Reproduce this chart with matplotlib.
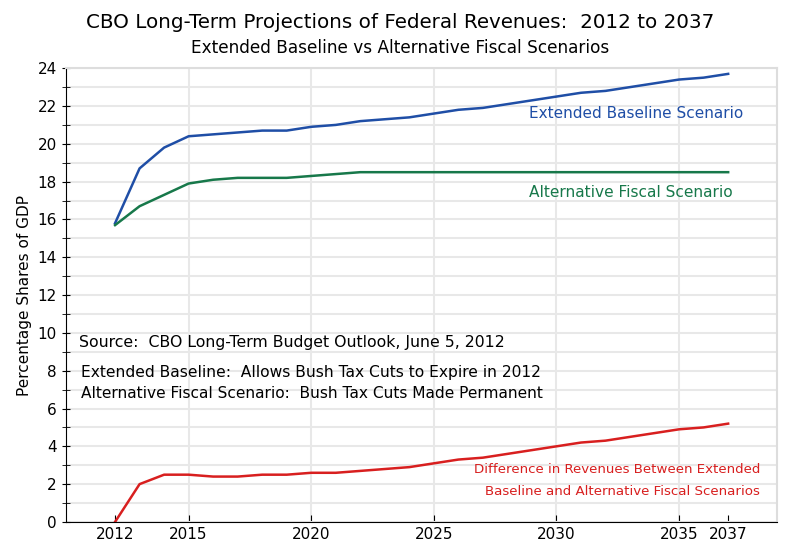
import matplotlib
matplotlib.use('Agg')
import matplotlib.pyplot as plt

# ---------------------------------------------------

years = list(range(2012, 2038))
baseline = [15.8, 18.7, 19.8, 20.4, 20.5, 20.6, 20.7, 20.7, 20.9, 21.0,
            21.2, 21.3, 21.4, 21.6, 21.8, 21.9, 22.1, 22.3, 22.5, 22.7,
            22.8, 23.0, 23.2, 23.4, 23.5, 23.7]
alternative = [15.7, 16.7, 17.3, 17.9, 18.1, 18.2, 18.2, 18.2, 18.3, 18.4,
               18.5, 18.5, 18.5, 18.5, 18.5, 18.5, 18.5, 18.5, 18.5, 18.5,
               18.5, 18.5, 18.5, 18.5, 18.5, 18.5]
difference = [0.0, 2.0, 2.5, 2.5, 2.4, 2.4, 2.5, 2.5, 2.6, 2.6,
              2.7, 2.8, 2.9, 3.1, 3.3, 3.4, 3.6, 3.8, 4.0, 4.2,
              4.3, 4.5, 4.7, 4.9, 5.0, 5.2]
x_ticks = [2012, 2015, 2020, 2025, 2030, 2035, 2037]

blue = '#1f4ea6'
green = '#17784a'
red = '#d81f1f'
grid_col = '#e8e8e8'

# ---------------------------------------------------

fig = plt.figure(figsize=(8, 5.5), dpi=100)
ax = fig.add_axes([0.0825, 0.051, 0.889, 0.825])

ax.plot(years, baseline, color=blue, linewidth=1.8)
ax.plot(years, alternative, color=green, linewidth=1.8)
ax.plot(years, difference, color=red, linewidth=1.8)

ax.set_xlim(2010, 2039)
ax.set_ylim(0, 24)
ax.set_xticks(x_ticks)
ax.set_yticks(range(0, 25, 2))
ax.set_yticks(range(0, 25, 1), minor=True)
ax.tick_params(axis='both', labelsize=11, length=5)
ax.tick_params(axis='x', direction='in')
ax.tick_params(axis='y', which='both', direction='inout', length=6)

# vertical grid only at 2015..2035
for yr in [2015, 2020, 2025, 2030, 2035]:
    ax.axvline(yr, color=grid_col, linewidth=1.5, zorder=0)
ax.yaxis.grid(True, which='both', color=grid_col, linewidth=1.5, zorder=0)
ax.set_axisbelow(True)

for s in ['top', 'right']:
    ax.spines[s].set_color('#dddddd')
    ax.spines[s].set_linewidth(1.5)

ax.set_ylabel('Percentage Shares of GDP', fontsize=11)

fig.text(0.5, 0.96, 'CBO Long-Term Projections of Federal Revenues:  2012 to 2037',
         ha='center', va='center', fontsize=14.3)
fig.text(0.5, 0.912, 'Extended Baseline vs Alternative Fiscal Scenarios',
         ha='center', va='center', fontsize=12.2)

ax.text(2037.6, 21.6, 'Extended Baseline Scenario', color=blue,
        ha='right', va='center', fontsize=11)
ax.text(2037.2, 17.4, 'Alternative Fiscal Scenario', color=green,
        ha='right', va='center', fontsize=11.1)
ax.text(2038.3, 2.75, 'Difference in Revenues Between Extended', color=red,
        ha='right', va='center', fontsize=9.6)
ax.text(2038.3, 1.6, 'Baseline and Alternative Fiscal Scenarios', color=red,
        ha='right', va='center', fontsize=9.6)

ax.text(2010.55, 9.5, 'Source:  CBO Long-Term Budget Outlook, June 5, 2012',
        ha='left', va='center', fontsize=11.3)
ax.text(2010.6, 7.9, 'Extended Baseline:  Allows Bush Tax Cuts to Expire in 2012',
        ha='left', va='center', fontsize=11.2)
ax.text(2010.6, 6.8, 'Alternative Fiscal Scenario:  Bush Tax Cuts Made Permanent',
        ha='left', va='center', fontsize=11.1)

plt.savefig('out.png', dpi=100)
